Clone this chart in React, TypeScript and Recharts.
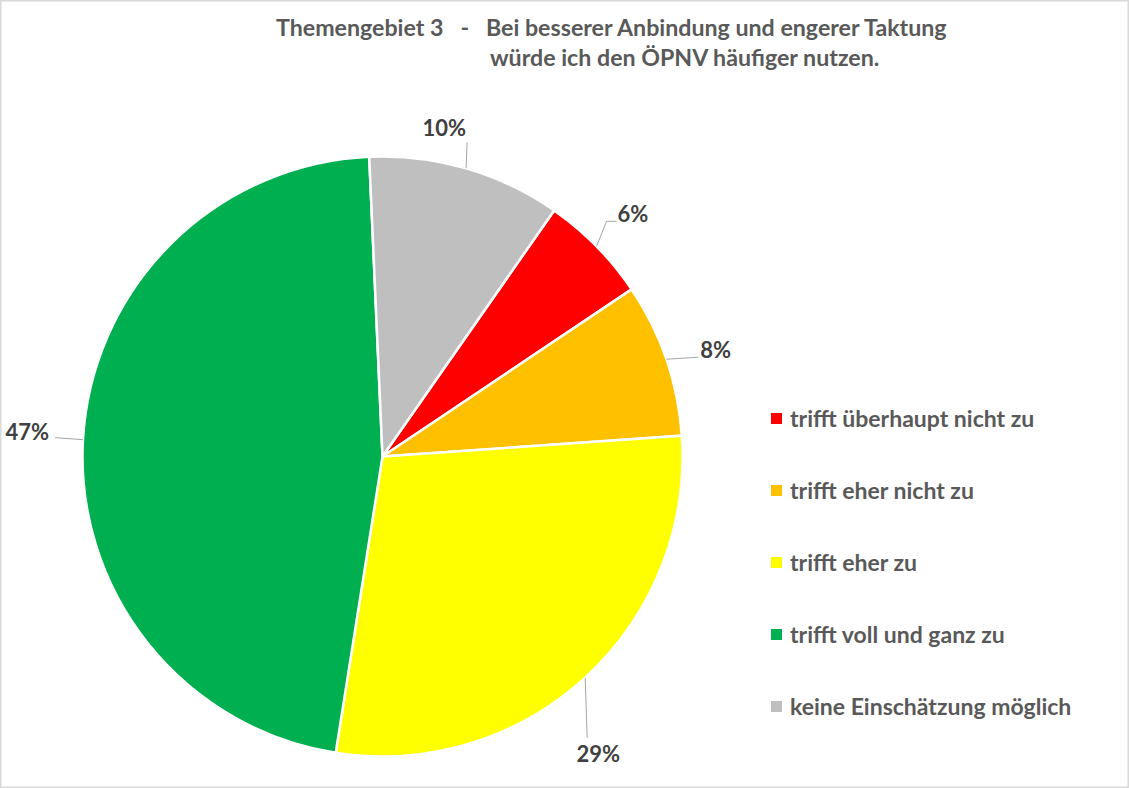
import React from 'react';
import { PieChart, Pie, Cell, Legend } from 'recharts';

// ---- data ----
const categories = [
  'trifft überhaupt nicht zu',
  'trifft eher nicht zu',
  'trifft eher zu',
  'trifft voll und ganz zu',
  'keine Einschätzung möglich',
];
const values = [5.9, 8.3, 28.6, 46.8, 10.4];
const colors = ['#FF0000', '#FFC000', '#FFFF00', '#00B050', '#BFBFBF'];
const titleLines = [
  'Themengebiet 3   -   Bei besserer Anbindung und engerer Taktung',
  'würde ich den ÖPNV häufiger nutzen.',
];

const data = categories.map((name, i) => ({ name, value: values[i] }));

// ---- styling ----
const W = 1129;
const H = 788;
const FONT = 'Lato, "Open Sans", "Noto Sans", sans-serif';
const RADIAN = Math.PI / 180;

// leader line elbows and label offsets, relative to the slice's outer edge point
const leaders: { path: number[][]; text: number[]; anchor: 'start' | 'middle' | 'end' }[] = [
  { path: [[10, -25], [20, -25]], text: [21, -24], anchor: 'start' },
  { path: [[32, -2]], text: [34, -1], anchor: 'start' },
  { path: [[2, 60]], text: [13, 84], anchor: 'middle' },
  { path: [[-28, -2]], text: [-34, 0], anchor: 'end' },
  { path: [[1, -26]], text: [0, -32], anchor: 'end' },
];

const renderLabel = (props: any) => {
  const { cx, cy, midAngle, outerRadius, percent, index } = props;
  const ex = cx + outerRadius * Math.cos(-midAngle * RADIAN);
  const ey = cy + outerRadius * Math.sin(-midAngle * RADIAN);
  const cfg = leaders[index];
  const pts = [[ex, ey], ...cfg.path.map(([dx, dy]) => [ex + dx, ey + dy])];
  return (
    <g key={`lbl-${index}`}>
      <polyline
        points={pts.map((p) => p.join(',')).join(' ')}
        fill="none"
        stroke="#A6A6A6"
        strokeWidth={1}
      />
      <text
        x={ex + cfg.text[0]}
        y={ey + cfg.text[1]}
        textAnchor={cfg.anchor}
        fill="#404040"
        fontFamily={FONT}
        fontWeight={700}
        fontSize={22}
      >
        {`${Math.round(percent * 100)}%`}
      </text>
    </g>
  );
};

const renderLegend = () => (
  <div style={{ fontFamily: FONT }}>
    {data.map((d, i) => (
      <div
        key={d.name}
        style={{
          display: 'flex',
          alignItems: 'center',
          height: 72,
          color: '#595959',
          fontWeight: 700,
          fontSize: 23,
          whiteSpace: 'nowrap',
        }}
      >
        <span
          style={{
            display: 'inline-block',
            width: 11,
            height: 11,
            background: colors[i],
            marginRight: 8,
          }}
        />
        {d.name}
      </div>
    ))}
  </div>
);

export default function App() {
  return (
    <div
      style={{
        position: 'absolute',
        left: 0,
        top: 0,
        width: W,
        height: H,
        background: '#FFFFFF',
        overflow: 'hidden',
      }}
    >
      <PieChart width={W} height={H} margin={{ top: 0, right: 0, bottom: 0, left: 0 }}>
        <Pie
          data={data}
          dataKey="value"
          nameKey="name"
          cx={382.5}
          cy={456.5}
          outerRadius={300}
          startAngle={55.1}
          endAngle={-304.9}
          stroke="#FFFFFF"
          strokeWidth={2.5}
          label={renderLabel}
          labelLine={false}
          isAnimationActive={false}
        >
          {data.map((d, i) => (
            <Cell key={d.name} fill={colors[i]} />
          ))}
        </Pie>
        <Legend
          layout="vertical"
          align="right"
          verticalAlign="top"
          content={renderLegend}
          wrapperStyle={{ position: 'absolute', left: 771, top: 382, width: 355 }}
        />
      </PieChart>
      <svg
        width={W}
        height={H}
        style={{ position: 'absolute', left: 0, top: 0, pointerEvents: 'none' }}
      >
        <text
          x={276}
          y={36}
          fill="#595959"
          fontFamily={FONT}
          fontWeight={700}
          fontSize={23.2}
          style={{ whiteSpace: 'pre' }}
        >
          {titleLines[0]}
        </text>
        <text
          x={490}
          y={66}
          fill="#595959"
          fontFamily={FONT}
          fontWeight={700}
          fontSize={23.2}
          style={{ whiteSpace: 'pre' }}
        >
          {titleLines[1]}
        </text>
        <rect x={0.75} y={0.75} width={W - 1.5} height={H - 1.5} fill="none" stroke="#D9D9D9" strokeWidth={1.5} />
      </svg>
    </div>
  );
}
